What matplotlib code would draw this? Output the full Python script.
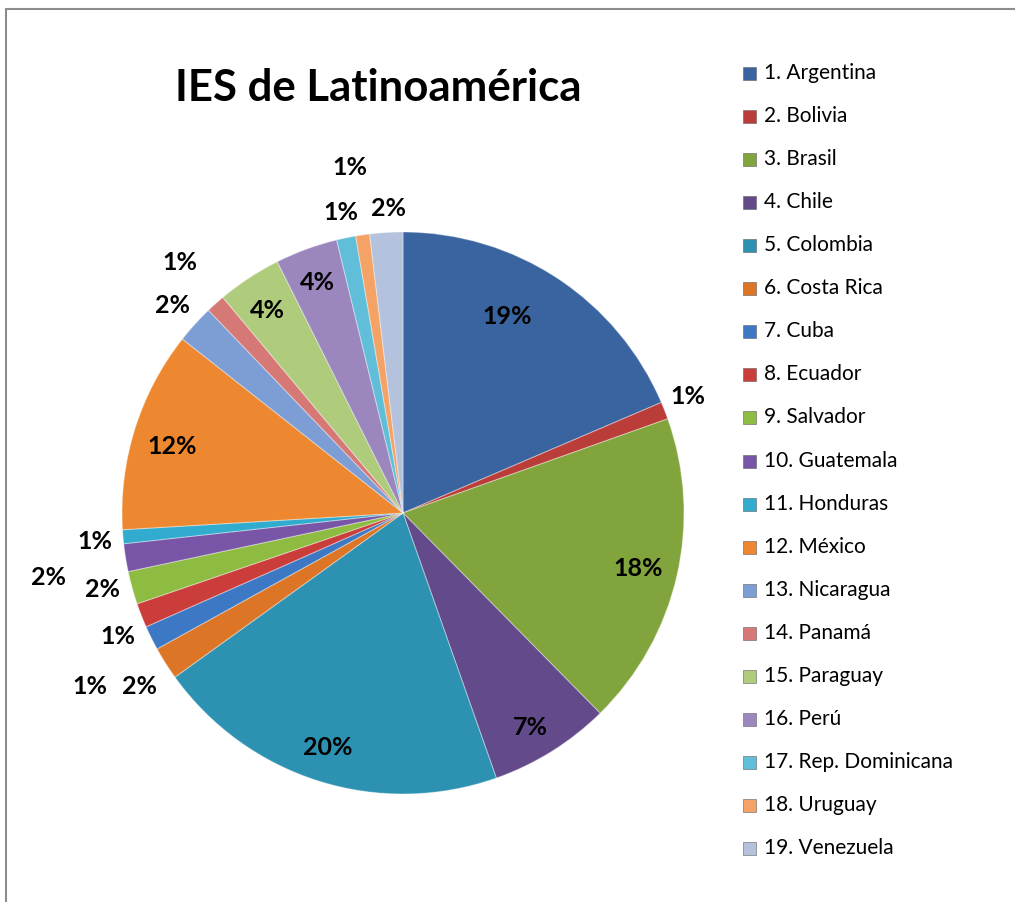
import matplotlib
matplotlib.use('Agg')
import matplotlib.pyplot as plt
from matplotlib.patches import Rectangle

# --- datos (porcentaje de IES por país) ---
paises = ['1. Argentina', '2. Bolivia', '3. Brasil', '4. Chile', '5. Colombia',
          '6. Costa Rica', '7. Cuba', '8. Ecuador', '9. Salvador', '10. Guatemala',
          '11. Honduras', '12. México', '13. Nicaragua', '14. Panamá', '15. Paraguay',
          '16. Perú', '17. Rep. Dominicana', '18. Uruguay', '19. Venezuela']
porcentajes = [18.6, 1.0, 18.1, 7.0, 20.5, 1.9, 1.4, 1.4, 1.9, 1.6,
               0.8, 11.6, 2.2, 1.1, 3.7, 3.6, 1.1, 0.8, 1.9]

colores = ['#3A64A0', '#BA3D39', '#82A43C', '#634A8A', '#2D91B1', '#DC7626',
           '#3D78C4', '#CA3D3B', '#8EBC43', '#7955A8', '#31ACCE', '#EE8830',
           '#7C9ED4', '#D67876', '#AECC7C', '#9C86BE', '#60BED8', '#F4A266',
           '#B4C2DE']

# posiciones de etiquetas (unidades del radio, centro del pastel = 0,0)
pos_etiquetas = [(0.370, 0.701), (1.014, 0.413), (0.836, -0.196), (0.452, -0.762),
                 (-0.267, -0.833), (-0.936, -0.616), (-1.114, -0.616), (-1.014, -0.441),
                 (-1.071, -0.274), (-1.263, -0.228), (-1.096, -0.100), (-0.822, 0.235),
                 (-0.822, 0.740), (-0.794, 0.893), (-0.484, 0.722), (-0.306, 0.819),
                 (-0.221, 1.068), (-0.189, 1.231), (-0.053, 1.082)]

W, H = 1015, 902
CX, CY, R = 403, 513, 281

fig = plt.figure(figsize=(W / 100, H / 100), dpi=100)
ax = fig.add_axes([0, 0, 1, 1])

wedges, _ = ax.pie(porcentajes, colors=colores, startangle=90, counterclock=False,
                   radius=1, wedgeprops=dict(edgecolor=(1, 1, 1, 0.35), linewidth=0.8))

ax.set_aspect('auto')
ax.set_xlim(-CX / R, (W - CX) / R)
ax.set_ylim((CY - H) / R, CY / R)
ax.axis('off')

total = sum(porcentajes)
for (x, y), v in zip(pos_etiquetas, porcentajes):
    ax.text(x, y, f'{v / total * 100:.0f}%', ha='center', va='center',
            fontsize=18, fontweight='bold', family='Lato', color='black')

# titulo
fig.text(378 / W, 1 - 88 / H, 'IES de Latinoamérica', ha='center', va='center',
         fontsize=31.5, fontweight='bold', family='Lato')

# leyenda manual
y0, paso = 73, 43.06
for i, (nombre, c) in enumerate(zip(paises, colores)):
    yy = y0 + i * paso
    fig.patches.append(Rectangle((743 / W, 1 - (yy + 7) / H), 13 / W, 13 / H,
                                 transform=fig.transFigure, facecolor=c,
                                 edgecolor='#606060', linewidth=0.4))
    fig.text(764 / W, 1 - yy / H, nombre, ha='left', va='center',
             fontsize=15, family='Lato')

# marco gris (solo se ven los bordes superior e izquierdo)
fig.patches.append(Rectangle((6 / W, -0.1), 1.2, 1 - 9 / H + 0.1,
                             transform=fig.transFigure, fill=False,
                             edgecolor='#8c8c8c', linewidth=1.5))

fig.savefig('out.png', dpi=100)
